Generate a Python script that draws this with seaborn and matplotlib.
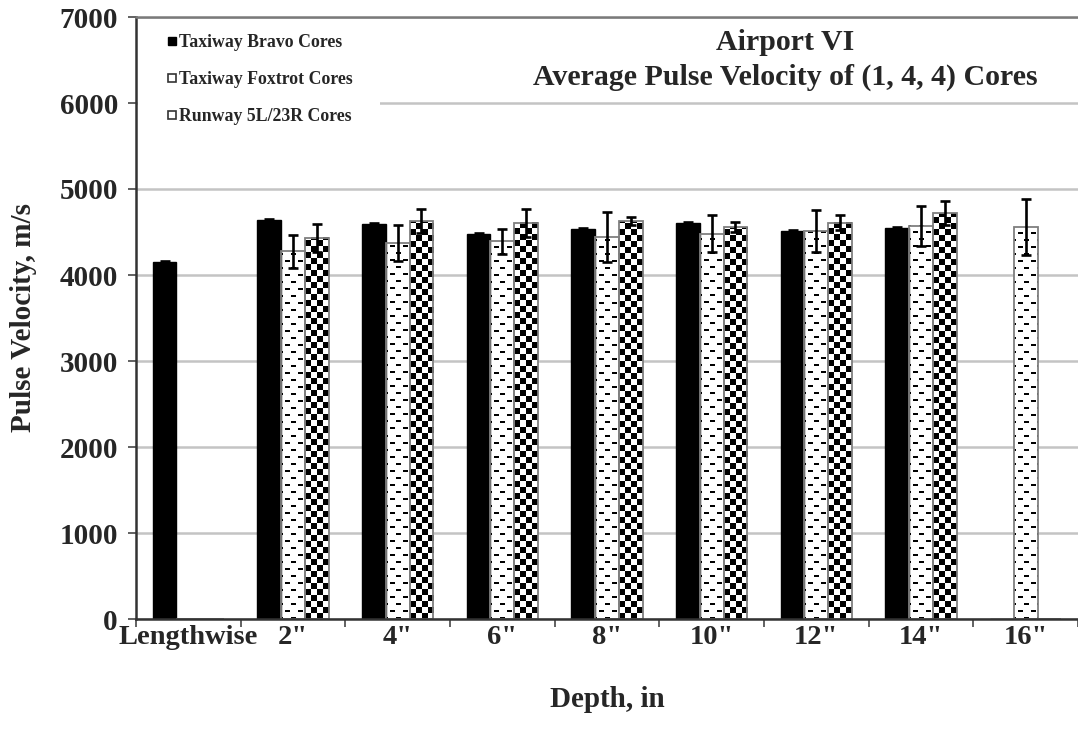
import numpy as np
import pandas as pd
import matplotlib
matplotlib.use("Agg")
import matplotlib.pyplot as plt
from matplotlib.lines import Line2D
from matplotlib.patches import Rectangle
import seaborn as sns

# ---- data -------------------------------------------------------------
depths = ['Lengthwise', '2"', '4"', '6"', '8"', '10"', '12"', '14"', '16"']
series = ['Taxiway Bravo Cores', 'Taxiway Foxtrot Cores', 'Runway 5L/23R Cores']

bravo = [4150, 4640, 4590, 4480, 4530, 4605, 4510, 4545, 0]
bravo_err = [12, 12, 12, 12, 12, 12, 12, 12, 0]

foxtrot = [0, 4275, 4375, 4390, 4440, 4478, 4515, 4573, 4555]
foxtrot_err = [0, 190, 208, 150, 289, 216, 246, 234, 323]

runway = [0, 4435, 4627, 4607, 4627, 4558, 4607, 4720, 0]
runway_err = [0, 162, 142, 162, 46, 58, 85, 135, 0]

y_ticks = [0, 1000, 2000, 3000, 4000, 5000, 6000, 7000]

values = [bravo, foxtrot, runway]
errors = [bravo_err, foxtrot_err, runway_err]

df = pd.DataFrame({
    'Depth': np.repeat([depths], 3, axis=0).ravel(),
    'Series': np.repeat(series, len(depths)),
    'Velocity': np.concatenate(values),
})

# ---- styling ----------------------------------------------------------
sns.set_theme(style="white")
plt.rcParams['font.family'] = ['Liberation Serif', 'DejaVu Serif']
plt.rcParams['font.weight'] = 'bold'

W, H, DPI = 1078, 738, 100
fig = plt.figure(figsize=(W / DPI, H / DPI), dpi=DPI)
ax = fig.add_axes([136 / W, 1 - 619 / H, (1078 - 136) / W, (619 - 17) / H])

sns.barplot(data=df, x='Depth', y='Velocity', hue='Series',
            order=depths, hue_order=series,
            palette=['black', 'white', 'white'], saturation=1,
            errorbar=None, width=0.68, dodge=True, legend=False, ax=ax)

ax.set_xlim(-0.5, len(depths) - 0.5)
ax.set_ylim(0, 7000)


def dash_pattern(h, w):
    r = np.arange(h)[:, None]
    c = np.arange(w)[None, :]
    row_idx = r // 7
    shift = (row_idx % 2) * 6
    on = ((r % 7) < 2) & (((c + shift + 3) % 13) < 5)
    return np.where(on, 0.0, 1.0)


def checker_pattern(h, w, cell=6):
    r = np.arange(h)[:, None]
    c = np.arange(w)[None, :]
    return (((r // cell) + (c // cell)) % 2).astype(float)


pattern_makers = {1: dash_pattern, 2: checker_pattern}

for i, cont in enumerate(ax.containers):
    for bar in cont.patches:
        bar.set_zorder(2)
        if i == 0:
            bar.set_edgecolor('black')
            bar.set_linewidth(1.0)
            continue
        bar.set_edgecolor('#7f7f7f')
        bar.set_linewidth(1.3)
        bx, bw, bh = bar.get_x(), bar.get_width(), bar.get_height()
        if bh <= 0:
            continue
        x0, y0 = ax.transData.transform((bx, 0))
        x1, y1 = ax.transData.transform((bx + bw, bh))
        pw, ph = max(int(round(x1 - x0)), 1), max(int(round(y1 - y0)), 1)
        arr = pattern_makers[i](ph, pw)[::-1]  # anchored at the bar base
        ax.imshow(arr, extent=(bx, bx + bw, 0, bh), cmap='gray', vmin=0, vmax=1,
                  interpolation='nearest', aspect='auto', zorder=1)
        bar.set_facecolor('none')

# error bars at the bar centres
for cont, vals, errs in zip(ax.containers, values, errors):
    xs = [b.get_x() + b.get_width() / 2 for b in cont.patches]
    v = np.array(vals, dtype=float)
    e = np.array(errs, dtype=float)
    mask = v > 0
    ax.errorbar(np.array(xs)[mask], v[mask], yerr=e[mask], fmt='none',
                ecolor='black', elinewidth=1.9, capsize=3.8, capthick=1.9, zorder=3)

ax.set_xlim(-0.5, len(depths) - 0.5)
ax.set_ylim(0, 7000)

# ---- axes -------------------------------------------------------------
ax.set_yticks(y_ticks)
ax.set_yticklabels([str(t) for t in y_ticks])
ax.yaxis.grid(True, color='#c4c4c4', linewidth=1.8)
ax.xaxis.grid(False)
ax.set_axisbelow(True)

ax.set_xticks(range(len(depths)))
ax.set_xticklabels(depths)
ax.set_xticks(np.arange(-0.5, len(depths)), minor=True)
ax.tick_params(axis='x', which='major', length=0, pad=4, labelsize=20.5)
ax.tick_params(axis='x', which='minor', length=6, width=1.3, color='#555555', direction='out', bottom=True)
ax.tick_params(axis='y', which='major', length=6, width=1.3, color='#555555', direction='out', left=True,
               labelsize=21, pad=7)
for lab in ax.get_xticklabels() + ax.get_yticklabels():
    lab.set_fontweight('bold')

for side in ['left', 'bottom', 'top']:
    ax.spines[side].set_visible(True)
    ax.spines[side].set_linewidth(1.8)
ax.spines['left'].set_color('#333333')
ax.spines['bottom'].set_color('#333333')
ax.spines['top'].set_color('#7a7a7a')
ax.spines['right'].set_visible(False)

ax.set_xlabel('Depth, in', fontsize=21, fontweight='bold', labelpad=26)
ax.set_ylabel('Pulse Velocity, m/s', fontsize=21, fontweight='bold', labelpad=16)

# ---- title -------------------------------------------------------------
ax.text(0.689, 0.957, 'Airport VI', transform=ax.transAxes, ha='center', va='center',
        fontsize=21.5, fontweight='bold', zorder=5)
ax.text(0.689, 0.899, 'Average Pulse Velocity of (1, 4, 4) Cores', transform=ax.transAxes,
        ha='center', va='center', fontsize=21.5, fontweight='bold', zorder=5)

# ---- legend ------------------------------------------------------------
ax.add_patch(Rectangle((0.002, 0.80), 0.257, 0.19, transform=ax.transAxes,
                       facecolor='white', edgecolor='none', zorder=0.8))
handles = [
    Line2D([], [], linestyle='none', marker='s', markersize=6,
           markerfacecolor='black', markeredgecolor='black'),
    Line2D([], [], linestyle='none', marker='s', markersize=6,
           markerfacecolor='white', markeredgecolor='#333333', markeredgewidth=1.2),
    Line2D([], [], linestyle='none', marker='s', markersize=6,
           markerfacecolor='white', markeredgecolor='#333333', markeredgewidth=1.2),
]
leg = ax.legend(handles, series, loc='upper left', bbox_to_anchor=(0.020, 0.992),
                frameon=False, handlelength=0.5, handletextpad=0.15,
                labelspacing=1.12, borderpad=0.2,
                prop={'family': 'Liberation Serif', 'weight': 'bold', 'size': 12.8})
leg.set_zorder(5)

fig.savefig('out.png', dpi=DPI)
